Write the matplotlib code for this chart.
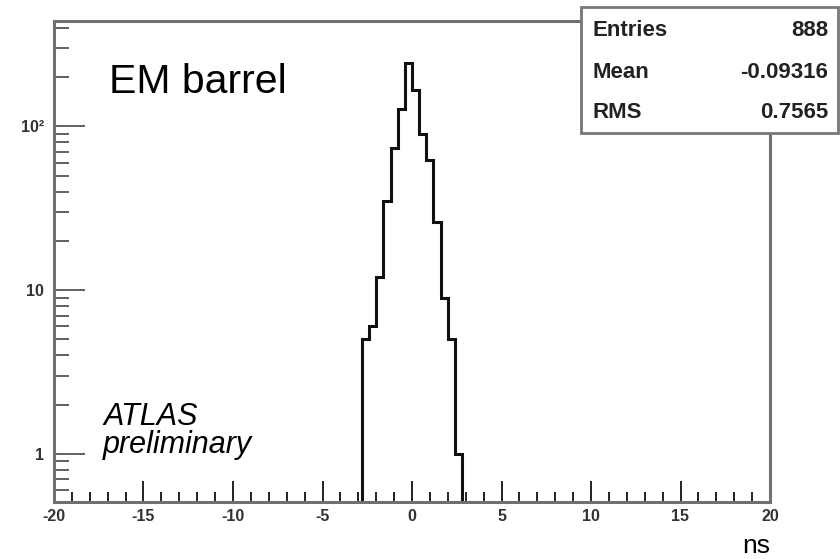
import matplotlib.pyplot as plt
import numpy as np
from matplotlib.ticker import FixedLocator, LogLocator, MultipleLocator, NullFormatter
from matplotlib.patches import Rectangle

plt.rcParams['font.family'] = ['Liberation Sans', 'DejaVu Sans']

# cell time distribution, 0.4 ns bins
bin_edges = [-2.8, -2.4, -2.0, -1.6, -1.2, -0.8, -0.4, 0.0,
             0.4, 0.8, 1.2, 1.6, 2.0, 2.4, 2.8]
counts = [5, 6, 12, 35, 74, 128, 245, 166, 90, 62, 26, 9, 5, 1]

stats_labels = ['Entries', 'Mean', 'RMS']
stats_values = ['888', '-0.09316', '0.7565']

x_ticks = [-20, -15, -10, -5, 0, 5, 10, 15, 20]
y_ticks = [1, 10, 100]
y_ticklabels = ['1', '10', '10²']

W, H = 840, 559
fig = plt.figure(figsize=(W / 100, H / 100), dpi=100)

# frame in pixels: left, right, top, bottom
fl, fr, ft, fb = 54, 770, 20.5, 502
ax = fig.add_axes([fl / W, 1 - fb / H, (fr - fl) / W, (fb - ft) / H])

ax.stairs(counts, bin_edges, baseline=0.01, color='#111111', lw=2.2)

ax.set_yscale('log')
ax.set_xlim(-20, 20)
ax.set_ylim(0.508, 444)

for s in ax.spines.values():
    s.set_color('#707070')
    s.set_linewidth(2.2)

ax.xaxis.set_major_locator(FixedLocator(x_ticks))
ax.xaxis.set_minor_locator(MultipleLocator(1))
ax.set_xticklabels([str(t) for t in x_ticks])
ax.yaxis.set_major_locator(FixedLocator(y_ticks))
ax.yaxis.set_minor_locator(LogLocator(base=10, subs=np.arange(2, 10)))
ax.yaxis.set_minor_formatter(NullFormatter())
ax.set_yticklabels(y_ticklabels)

ax.tick_params(axis='x', which='major', direction='in', length=15, width=1.4,
               color='#222222', pad=5, labelsize=11.5)
ax.tick_params(axis='x', which='minor', direction='in', length=7.5, width=1.4,
               color='#222222')
ax.tick_params(axis='y', which='major', direction='in', length=22, width=1.4,
               color='#606060', pad=7, labelsize=11.5)
ax.tick_params(axis='y', which='minor', direction='in', length=11, width=1.4,
               color='#606060')
for lab in ax.get_xticklabels() + ax.get_yticklabels():
    lab.set_fontweight('bold')
    lab.set_color('#333333')

# labels on the pad
fig.text(109 / W, 1 - 93 / H, 'EM barrel', fontsize=29.5, ha='left', va='baseline')
fig.text(103 / W, 1 - 425 / H, 'ATLAS', fontsize=22, style='italic',
         ha='left', va='baseline')
fig.text(103 / W, 1 - 453 / H, 'preliminary', fontsize=22, style='italic',
         ha='left', va='baseline')
fig.text(fr / W, 1 - 553 / H, 'ns', fontsize=19, ha='right', va='baseline')

# statistics box
bx0, bx1, by0, by1 = 581, 838, 7, 133
fig.patches.append(Rectangle((bx0 / W, 1 - by1 / H), (bx1 - bx0) / W, (by1 - by0) / H,
                             transform=fig.transFigure, facecolor='white',
                             edgecolor='#777777', lw=2, zorder=5))
row_y = [30, 73, 112]
for lab, val, ry in zip(stats_labels, stats_values, row_y):
    fig.text(593 / W, 1 - ry / H, lab, fontsize=16, fontweight='bold',
             ha='left', va='center', color='#222222', zorder=6)
    fig.text(828 / W, 1 - ry / H, val, fontsize=16, fontweight='bold',
             ha='right', va='center', color='#222222', zorder=6)

fig.savefig('out.png', dpi=100)
